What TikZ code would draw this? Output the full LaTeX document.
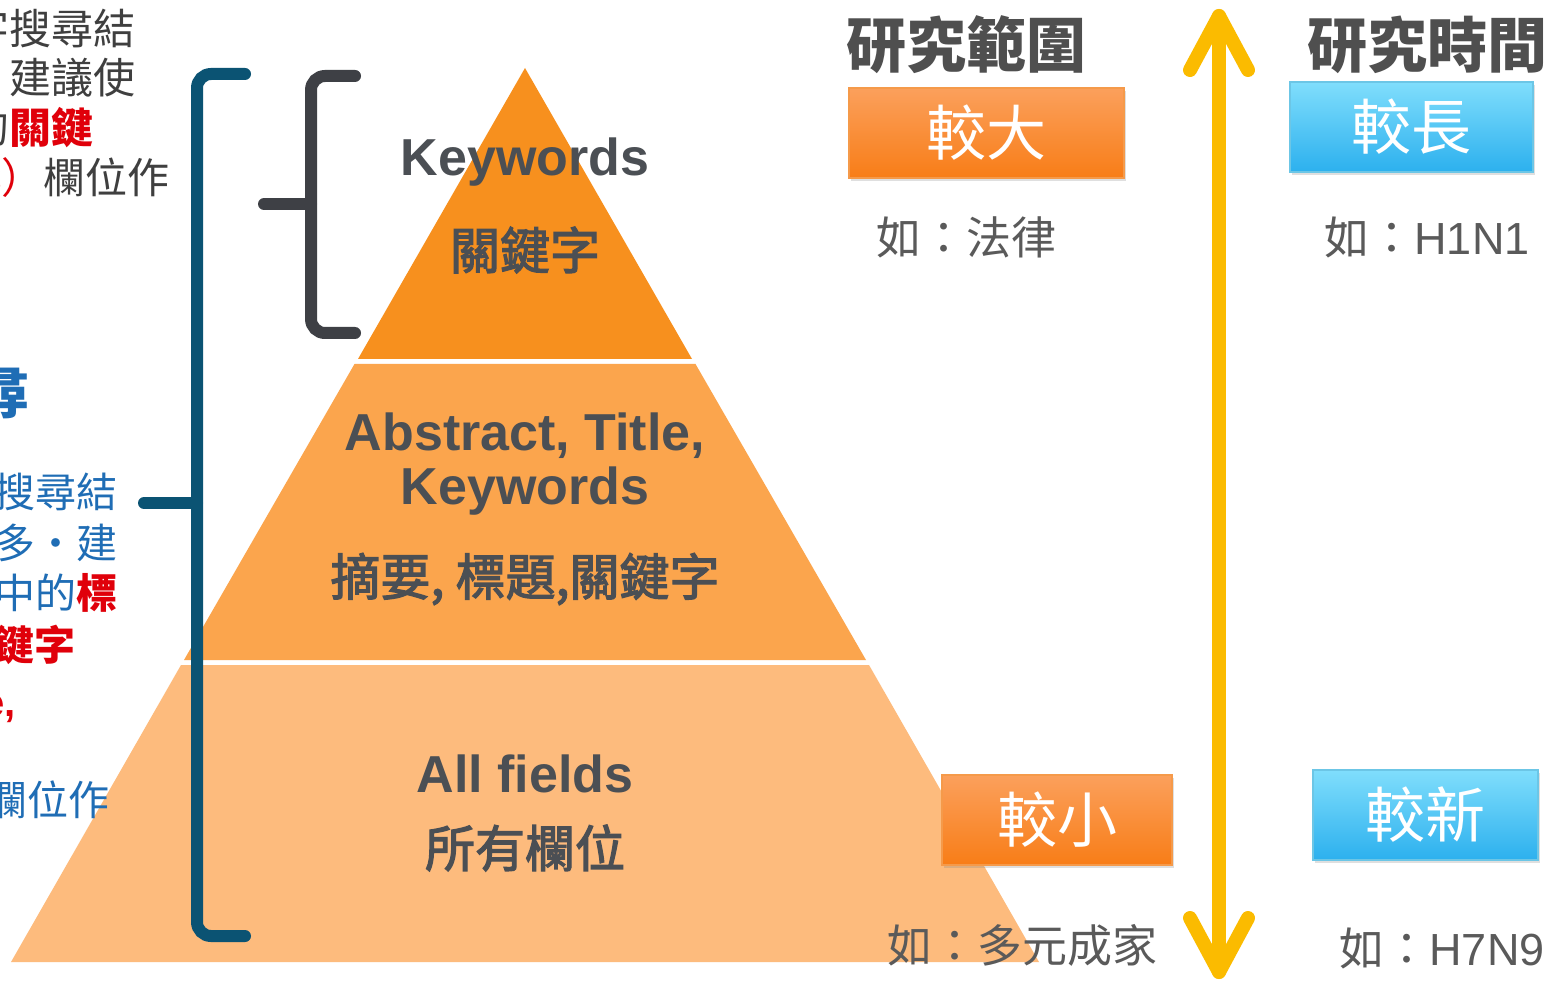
\documentclass[tikz,border=0pt]{standalone}
\usepackage{fontspec}
\setmainfont{Liberation Sans}
\newfontfamily\cjk{Noto Sans CJK TC}
\newfontfamily\cjkm[FakeBold=2.5]{Noto Sans CJK TC}
\newfontfamily\lat{Liberation Sans}
\usetikzlibrary{shadows}
\newcommand\fsz[1]{\fontsize{#1}{#1}\selectfont}
\definecolor{tierA}{HTML}{F7901E}
\definecolor{tierB}{HTML}{FBA54D}
\definecolor{tierC}{HTML}{FDBB7D}
\definecolor{teal}{HTML}{0B5373}
\definecolor{dbrk}{HTML}{3E4045}
\definecolor{gold}{HTML}{FBBB00}
\definecolor{pyrtxt}{HTML}{4B4F54}
\definecolor{headtxt}{HTML}{4F4F4F}
\definecolor{extxt}{HTML}{5A5A5A}
\definecolor{ktxt}{HTML}{3F3F3F}
\definecolor{btxt}{HTML}{1F6DB5}
\definecolor{kred}{HTML}{E0000A}
\definecolor{oTop}{HTML}{FBA05C}
\definecolor{oBot}{HTML}{F87D17}
\definecolor{oBrd}{HTML}{F59A4A}
\definecolor{bTop}{HTML}{80DEFC}
\definecolor{bBot}{HTML}{2CB0EE}
\definecolor{bBrd}{HTML}{6CC6E6}
\tikzset{
  pyrlat/.style={text=pyrtxt, font=\lat\bfseries\fsz{52}, inner sep=0pt},
  pyrcjk/.style={text=pyrtxt, font=\cjkm\fsz{50}, inner sep=0pt},
  head/.style={text=headtxt, font=\cjk\bfseries\fsz{60}, inner sep=0pt},
  exam/.style={text=extxt, font=\cjk\fsz{45}, inner sep=0pt},
  tagbox/.style={font=\cjk\fsz{60}, text=white, inner sep=0pt, minimum height=90pt,
     drop shadow={shadow xshift=2pt, shadow yshift=-3pt, opacity=0.25}},
  obox/.style={tagbox, top color=oTop, bottom color=oBot, draw=oBrd, line width=1.5pt},
  bbox/.style={tagbox, top color=bTop, bottom color=bBot, draw=bBrd, line width=1.5pt},
  ktext/.style={text=ktxt, font=\cjk\fsz{42}, inner sep=0pt, anchor=east},
  btext/.style={text=btxt, font=\cjk\fsz{41}, inner sep=0pt, anchor=east},
  brk/.style={line width=12pt, rounded corners=14pt, line cap=round},
  arr/.style={gold, line width=14pt, line cap=round, line join=round},
}
\begin{document}
\begin{tikzpicture}[x=1pt,y=-1pt]
\useasboundingbox (0,0) rectangle (1555,981);
\fill[white] (0,0) rectangle (1555,981);

% pyramid tiers
\fill[tierA] (525,68) -- (692,359) -- (358,359) -- cycle;
\fill[tierB] (354.5,364) -- (695.5,364) -- (866,660) -- (184,660) -- cycle;
\fill[tierC] (181,665) -- (869,665) -- (1039,962) -- (11,962) -- cycle;

% pyramid labels
\node[pyrlat] (kw1) at (525,162) {Keywords};
\node[pyrcjk] (kw2) at (525,250) {關鍵字};
\node[pyrlat] (ab1) at (525,436) {Abstract, Title,};
\node[pyrlat] (ab2) at (525,491) {Keywords};
\node[pyrcjk] (ab3) at (525,579) {摘要, 標題,關鍵字};
\node[pyrlat] (al1) at (525,774) {All fields};
\node[pyrcjk] (al2) at (525,848) {所有欄位};

% brackets
\draw[brk, teal] (245,74) -- (197,74) -- (197,936) -- (245,936);
\draw[line width=12pt, line cap=round, teal] (144,503) -- (197,503);
\draw[brk, dbrk] (355,76) -- (311,76) -- (311,333) -- (355,333);
\draw[line width=12pt, line cap=round, dbrk] (264,204) -- (311,204);

% headings
\node[head] (h1) at (966,45) {研究範圍};
\node[head] (h2) at (1427,45) {研究時間};

% tag boxes
\node[obox, minimum width=275pt] (big) at (986.5,133) {較大};
\node[bbox, minimum width=243pt] (long) at (1411.5,127) {較長};
\node[obox, minimum width=230pt] (small) at (1057,820) {較小};
\node[bbox, minimum width=225pt] (new) at (1425.5,815) {較新};

% examples
\node[exam] (e1) at (966,237) {如：法律};
\node[exam] (e2) at (1427,237) {如：{\lat H1N1}};
\node[exam] (e3) at (1022,945) {如：多元成家};
\node[exam] (e4) at (1442,948) {如：{\lat H7N9}};

% double arrow
\coordinate (atop) at (1219,16);
\coordinate (abot) at (1219,972);
\coordinate (tl) at (1190,70);
\coordinate (tr) at (1248,70);
\coordinate (bl) at (1190,918);
\coordinate (br) at (1248,918);
\draw[arr] (atop) -- (abot);
\draw[arr] (tl) -- (atop) -- (tr);
\draw[arr] (bl) -- (abot) -- (br);

% left text, first block (clipped at the page edge)
\node[ktext] (k1) at (136,28) {關鍵字搜尋結};
\node[ktext] (k2) at (136,78) {果太多，建議使};
\node[ktext] (k3) at (94,128) {文章中的{\color{kred}\bfseries 關鍵}};
\node[ktext] (k4) at (170,180) {{\color{kred}\bfseries 字(Keywords}{\color{kred}）}欄位作};

% left text, second block
\node[btext, font=\cjk\bfseries\fsz{56}] (bh) at (30,392) {搜尋};
\node[btext] (b1) at (118,492) {若搜尋結};
\node[btext] (b2) at (118,543) {果太多・建};
\node[btext] (b3) at (118,593) {章中的{\color{kred}\bfseries 標}};
\node[btext, text=kred, font=\cjk\bfseries\fsz{41}] (b4) at (76,645) {關鍵字};
\node[btext, text=kred, font=\lat\bfseries\fsz{40}] (b5) at (16,705) {Title,};
\node[btext] (b6) at (110,800) {欄位作};
\end{tikzpicture}
\end{document}
